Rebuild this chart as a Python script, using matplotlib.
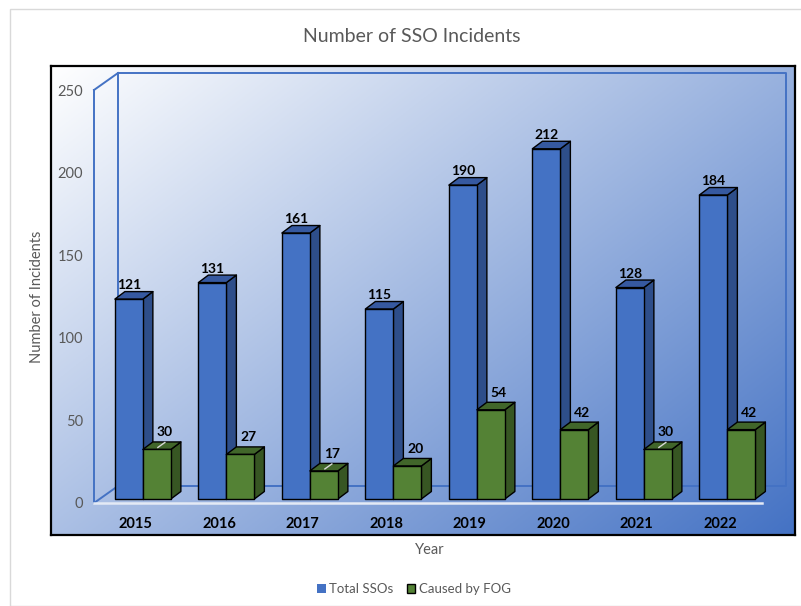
import matplotlib.pyplot as plt
from matplotlib.patches import Polygon, Rectangle
from matplotlib.lines import Line2D
import numpy as np

plt.rcParams['font.family'] = ['Lato', 'DejaVu Sans']

# --- data ---
years = ['2015', '2016', '2017', '2018', '2019', '2020', '2021', '2022']
total_ssos = [121, 131, 161, 115, 190, 212, 128, 184]
caused_by_fog = [30, 27, 17, 20, 54, 42, 30, 42]
fog_leader = [True, False, True, False, False, False, True, False]

# colours (front, side, top)
blue = ('#4472C4', '#2E4E8A', '#3659A0')
green = ('#548235', '#375623', '#41662A')
wall_col = '#4472C4'
grey_txt = '#595959'

W, H = 801, 606
fig = plt.figure(figsize=(W / 100, H / 100), dpi=100)


def box(x0, y0, x1, y1):
    # pixel box (origin top-left) -> figure fraction
    return [x0 / W, 1 - y1 / H, (x1 - x0) / W, (y1 - y0) / H]


# light outer border of the chart area
fig.patches.append(Rectangle((10 / W, 0), 1, 1 - 9 / H, transform=fig.transFigure,
                             fill=False, ec='#D9D9D9', lw=1))

# plot area with diagonal gradient fill
bg = fig.add_axes(box(51, 66, 795, 535))
gx, gy = np.meshgrid(np.linspace(0, 1, 300), np.linspace(0, 1, 200))
t = (gx * 0.55 + gy * 0.45)
c0 = np.array([1.0, 1.0, 1.0])
c1 = np.array([0x44, 0x72, 0xC4]) / 255
img = c0[None, None, :] * (1 - t[..., None]) + c1[None, None, :] * t[..., None]
bg.imshow(img, aspect='auto', extent=[0, 1, 0, 1], origin='upper')
bg.set_xticks([])
bg.set_yticks([])
for s in bg.spines.values():
    s.set_linewidth(1.6)
    s.set_color('black')
bg.set_zorder(0)

# main axes: front plane of the 3D box
ax = fig.add_axes(box(94, 90, 762, 503))
ax.set_zorder(1)
ax.patch.set_visible(False)
n = len(years)
ax.set_xlim(-0.5, n - 0.5)
ax.set_ylim(0, 250)
for s in ax.spines.values():
    s.set_visible(False)

# data units per pixel
ux = n / (762 - 94)
uy = 250 / (503 - 90)

# walls: depth offset in pixels
wdx, wdy = 24, 17
x_l, x_r = -0.5, n - 0.5
bx = wdx * ux
by = wdy * uy
wall_kw = dict(color=wall_col, lw=1.4, clip_on=False, zorder=1)
# back wall
ax.add_line(Line2D([x_l + bx, x_r + bx, x_r + bx, x_l + bx, x_l + bx],
                   [250 + by, 250 + by, by, by, 250 + by], **wall_kw))
# side wall
ax.add_line(Line2D([x_l, x_l, x_l + bx], [250, 0, by], **wall_kw))
ax.add_line(Line2D([x_l, x_l + bx], [250, 250 + by], **wall_kw))
# floor front edge
ax.add_line(Line2D([x_l, x_r], [0, 0], color='#E4EAF5', lw=1.8, clip_on=False, zorder=1))

# bars
bar_w = 28 * ux
off_blue = -0.25
base = 4 * uy          # bars sit slightly behind the front plane
ddx, ddy = 10 * ux, 7.5 * uy


def bar3d(x0, h, cols, z):
    x1 = x0 + bar_w
    y0, y1 = base, base + h
    kw = dict(ec='black', lw=1, joinstyle='round', clip_on=False, zorder=z)
    ax.add_patch(Polygon([(x1, y0), (x1 + ddx, y0 + ddy), (x1 + ddx, y1 + ddy), (x1, y1)],
                         fc=cols[1], **kw))
    ax.add_patch(Polygon([(x0, y1), (x1, y1), (x1 + ddx, y1 + ddy), (x0 + ddx, y1 + ddy)],
                         fc=cols[2], **kw))
    ax.add_patch(Polygon([(x0, y0), (x1, y0), (x1, y1), (x0, y1)], fc=cols[0], **kw))


lbl_kw = dict(ha='center', va='baseline', fontsize=10, fontweight='bold',
              color='black', zorder=10)
for i in range(n):
    xb = i + off_blue
    xg = xb + bar_w
    bar3d(xb, total_ssos[i], blue, 3 + i * 2)
    bar3d(xg, caused_by_fog[i], green, 4 + i * 2)
    ax.text(xb + bar_w / 2, base + total_ssos[i] + 10 * uy, str(total_ssos[i]), **lbl_kw)
    gx0 = xg + bar_w / 2
    gtop = base + caused_by_fog[i]
    ax.text(gx0 + 8 * ux, gtop + 13 * uy, str(caused_by_fog[i]), **lbl_kw)
    if fog_leader[i]:
        ax.add_line(Line2D([gx0 + 1 * ux, gx0 + 8 * ux], [gtop + 2 * uy, gtop + 7 * uy],
                           color='#D9D9D9', lw=1, clip_on=False, zorder=20))

# ticks
ax.set_yticks(np.arange(0, 251, 50))
ax.tick_params(axis='y', length=0, pad=8, labelsize=10.5, labelcolor=grey_txt)
ax.set_xticks(np.arange(n))
ax.set_xticklabels(years, fontweight='bold')
ax.tick_params(axis='x', length=0, pad=10, labelsize=10.5, labelcolor='black')

# titles and axis labels
fig.text(412 / W, 1 - 36 / H, 'Number of SSO Incidents', ha='center', va='center',
         fontsize=14, color=grey_txt)
fig.text(37 / W, 1 - 297 / H, 'Number of Incidents', rotation=90, ha='center',
         va='center', fontsize=10.5, color=grey_txt)
fig.text(430 / W, 1 - 550 / H, 'Year', ha='center', va='center', fontsize=10.5,
         color=grey_txt)

# legend
handles = [Rectangle((0, 0), 1, 1, fc=blue[0], ec='none'),
           Rectangle((0, 0), 1, 1, fc=green[0], ec='black', lw=1)]
fig.legend(handles, ['Total SSOs', 'Caused by FOG'], loc='center',
           bbox_to_anchor=(414 / W, 1 - 589 / H), ncol=2, frameon=False,
           fontsize=9.5, handlelength=0.65, handleheight=0.65, handletextpad=0.25,
           columnspacing=1.0, labelcolor=grey_txt)

fig.savefig('out.png', dpi=100)
